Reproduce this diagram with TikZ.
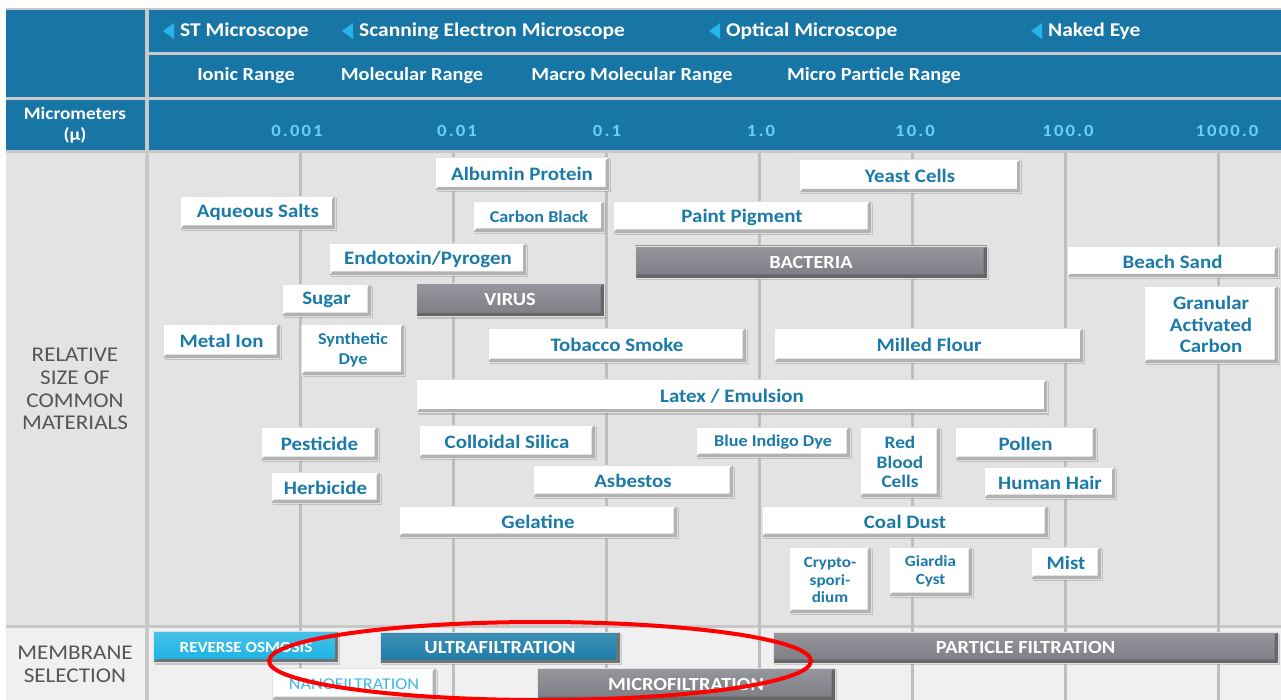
\documentclass[tikz,border=0pt]{standalone}
\usepackage{fontspec}
\setmainfont{Carlito}[FakeStretch=1.1]
\usetikzlibrary{shadows}

\definecolor{hdrblue}{RGB}{23,118,166}
\definecolor{sepgrey}{RGB}{200,200,200}
\definecolor{bodygrey}{RGB}{227,227,227}
\definecolor{gridgrey}{RGB}{190,190,190}
\definecolor{memgrey}{RGB}{240,240,240}
\definecolor{tiletxt}{RGB}{27,122,168}
\definecolor{numcyan}{RGB}{102,210,245}
\definecolor{tricyan}{RGB}{40,180,230}
\definecolor{darktile}{RGB}{124,125,132}
\definecolor{roblue}{RGB}{25,178,227}
\definecolor{ufblue}{RGB}{27,124,168}
\definecolor{nanotxt}{RGB}{60,185,232}
\definecolor{lbltxt}{RGB}{85,85,85}

\tikzset{
  gridline/.style={gridgrey, line width=3pt},
  hdrtxt/.style={text=white, inner sep=0pt, font=\fontsize{18.5}{20}\selectfont\bfseries},
  numtxt/.style={text=numcyan, inner sep=0pt, font=\fontsize{17}{19}\selectfont\bfseries\addfontfeatures{LetterSpace=12}},
  sidetxt/.style={text=lbltxt, align=center, inner sep=0pt, font=\fontsize{21}{22.7}\selectfont},
  tile/.style={draw=black!12, inner sep=0pt, align=center,
    drop shadow={shadow xshift=1.5pt, shadow yshift=-2pt, opacity=.35},
    path picture={\fill[#1] (path picture bounding box.north east) -- (path picture bounding box.south east)
      -- (path picture bounding box.south west) -- ([shift={(3pt,3.5pt)}]path picture bounding box.south west)
      -- ([shift={(-3.5pt,3.5pt)}]path picture bounding box.south east) -- ([shift={(-3.5pt,-3pt)}]path picture bounding box.north east) -- cycle;}},
  tile/.default=black!30,
  wtile/.style={tile, fill=white, text=tiletxt, font=\fontsize{19}{21.5}\selectfont\bfseries},
  stile/.style={wtile, font=\fontsize{16.5}{20}\selectfont\bfseries},
  gtile/.style={tile=black!60, top color=darktile!80!white, bottom color=darktile, text=white, font=\fontsize{18.5}{20}\selectfont\bfseries},
  mtile/.style={tile=black!55, text=white, font=\fontsize{18.5}{20}\selectfont\bfseries}
}

\begin{document}
\begin{tikzpicture}[x=1pt,y=-1pt]
    \useasboundingbox (0,0) rectangle (1281,700);
    % table
    \fill[sepgrey] (6,8) rectangle (1281,700);
    \fill[hdrblue] (6,10) rectangle (145,97);
    \fill[hdrblue] (149,10) rectangle (1281,52);
    \fill[hdrblue] (149,55) rectangle (1281,97);
    \fill[hdrblue] (6,100) rectangle (145,150);
    \fill[hdrblue] (149,100) rectangle (1281,150);
    \fill[bodygrey] (6,153) rectangle (145,625);
    \fill[bodygrey] (149,153) rectangle (1281,625);
    \fill[memgrey] (6,628) rectangle (145,700);
    \fill[memgrey] (149,628) rectangle (1281,700);
    \foreach \gx in {300,453,...,1218}
        \draw[gridline] (\gx,153) -- (\gx,700);

    % header
    \node[hdrtxt, anchor=west, font=\fontsize{19.5}{21}\selectfont\bfseries] (stm) at (180,31) {ST Microscope};
    \node[hdrtxt, anchor=west, font=\fontsize{19.5}{21}\selectfont\bfseries] (sem) at (359,31) {Scanning Electron Microscope};
    \node[hdrtxt, anchor=west, font=\fontsize{19.5}{21}\selectfont\bfseries] (optm) at (726,31) {Optical Microscope};
    \node[hdrtxt, anchor=west, font=\fontsize{19.5}{21}\selectfont\bfseries] (naked) at (1048,31) {Naked Eye};
    \foreach \m in {stm,sem,optm,naked}
        \fill[tricyan] ([xshift=-6pt,yshift=8pt]\m.west) -- ++(0pt,-16pt) -- ++(-11pt,8pt) -- cycle;
    \node[hdrtxt] (ionic) at (246,76) {Ionic Range};
    \node[hdrtxt] (molec) at (412,76) {Molecular Range};
    \node[hdrtxt] (macro) at (632,76) {Macro Molecular Range};
    \node[hdrtxt] (micro) at (874,76) {Micro Particle Range};
    \node[hdrtxt, align=center, font=\fontsize{17.5}{21}\selectfont\bfseries] (mum) at (75,125) {Micrometers\\(μ)};
    \foreach \nx/\nv [count=\i] in {297/0.001, 457/0.01, 607/0.1, 761/1.0, 915/10.0, 1068/100.0, 1227/1000.0}
        \node[numtxt] (n\i) at (\nx,131) {\nv};

    % materials
    \node[sidetxt] (rel) at (75,389) {RELATIVE\\SIZE OF\\COMMON\\MATERIALS};
    \node[wtile, minimum width=174, minimum height=33] (albumin) at (522,174) {Albumin Protein};
    \node[wtile, minimum width=221, minimum height=33] (yeast) at (910,176) {Yeast Cells};
    \node[wtile, minimum width=155, minimum height=33] (aqsalts) at (258,212.5) {Aqueous Salts};
    \node[stile, minimum width=131, minimum height=31] (carbon) at (539,216.5) {Carbon Black};
    \node[wtile, minimum width=258, minimum height=32] (paint) at (742,217) {Paint Pigment};
    \node[wtile, minimum width=197, minimum height=32] (endo) at (428,259) {Endotoxin/Pyrogen};
    \node[gtile, minimum width=352, minimum height=32] (bacteria) at (811,262) {BACTERIA};
    \node[wtile, minimum width=211, minimum height=31] (sand) at (1172.5,262) {Beach Sand};
    \node[wtile, minimum width=89, minimum height=32] (sugar) at (326.5,300) {Sugar};
    \node[gtile, minimum width=188, minimum height=33] (virus) at (510,300) {VIRUS};
    \node[wtile, minimum width=134, minimum height=77] (gac) at (1211,324.5) {Granular\\Activated\\Carbon};
    \node[wtile, minimum width=117, minimum height=34] (metal) at (221.5,341) {Metal Ion};
    \node[stile, minimum width=103, minimum height=51] (syndye) at (353,349.5) {Synthetic\\Dye};
    \node[wtile, minimum width=258, minimum height=34] (tobacco) at (617,345) {Tobacco Smoke};
    \node[wtile, minimum width=309, minimum height=34] (flour) at (929,345) {Milled Flour};
    \node[wtile, minimum width=631, minimum height=33] (latex) at (732,396) {Latex / Emulsion};
    \node[wtile, minimum width=117, minimum height=33] (pesticide) at (319.5,443.5) {Pesticide};
    \node[wtile, minimum width=176, minimum height=33] (silica) at (507,441.5) {Colloidal Silica};
    \node[stile, minimum width=154, minimum height=30] (indigo) at (773,442) {Blue Indigo Dye};
    \node[wtile, minimum width=80, minimum height=70, font=\fontsize{17.5}{19.5}\selectfont\bfseries] (rbc) at (900,462) {Red\\Blood\\Cells};
    \node[wtile, minimum width=141, minimum height=33] (pollen) at (1025.5,443.5) {Pollen};
    \node[wtile, minimum width=109, minimum height=31] (herbicide) at (325.5,487.5) {Herbicide};
    \node[wtile, minimum width=200, minimum height=32] (asbestos) at (633,481) {Asbestos};
    \node[wtile, minimum width=131, minimum height=31] (hair) at (1050,482.5) {Human Hair};
    \node[wtile, minimum width=278, minimum height=31] (gelatine) at (538,521.5) {Gelatine};
    \node[wtile, minimum width=286, minimum height=31] (coal) at (905,521.5) {Coal Dust};
    \node[stile, minimum width=82, minimum height=66, font=\fontsize{15.5}{17.5}\selectfont\bfseries] (crypto) at (830,580) {Crypto-\\spori-\\dium};
    \node[stile, minimum width=83, minimum height=49, font=\fontsize{15.5}{18}\selectfont\bfseries] (giardia) at (930.5,571.5) {Giardia\\Cyst};
    \node[wtile, minimum width=70, minimum height=32] (mist) at (1066,563) {Mist};

    % membranes
    \node[sidetxt, font=\fontsize{21}{23}\selectfont] (memsel) at (75,664.5) {MEMBRANE\\SELECTION};
    \node[mtile, top color=roblue!80!white, bottom color=roblue, minimum width=185, minimum height=31, font=\fontsize{15.5}{17}\selectfont\bfseries] (ro) at (246,647) {REVERSE OSMOSIS};
    \node[mtile, top color=ufblue!85!white, bottom color=ufblue, minimum width=240, minimum height=31] (uf) at (500,647.5) {ULTRAFILTRATION};
    \node[gtile, minimum width=505, minimum height=31] (pf) at (1025.5,647.5) {PARTICLE FILTRATION};
    \node[wtile, text=nanotxt, minimum width=164, minimum height=32, font=\fontsize{16.5}{18}\selectfont] (nf) at (354,684) {NANOFILTRATION};
    \node[gtile, minimum width=298, minimum height=32] (mf) at (686,684) {MICROFILTRATION};
    \draw[red, line width=4pt] (540,661) ellipse [x radius=271pt, y radius=39pt];
\end{tikzpicture}
\end{document}
